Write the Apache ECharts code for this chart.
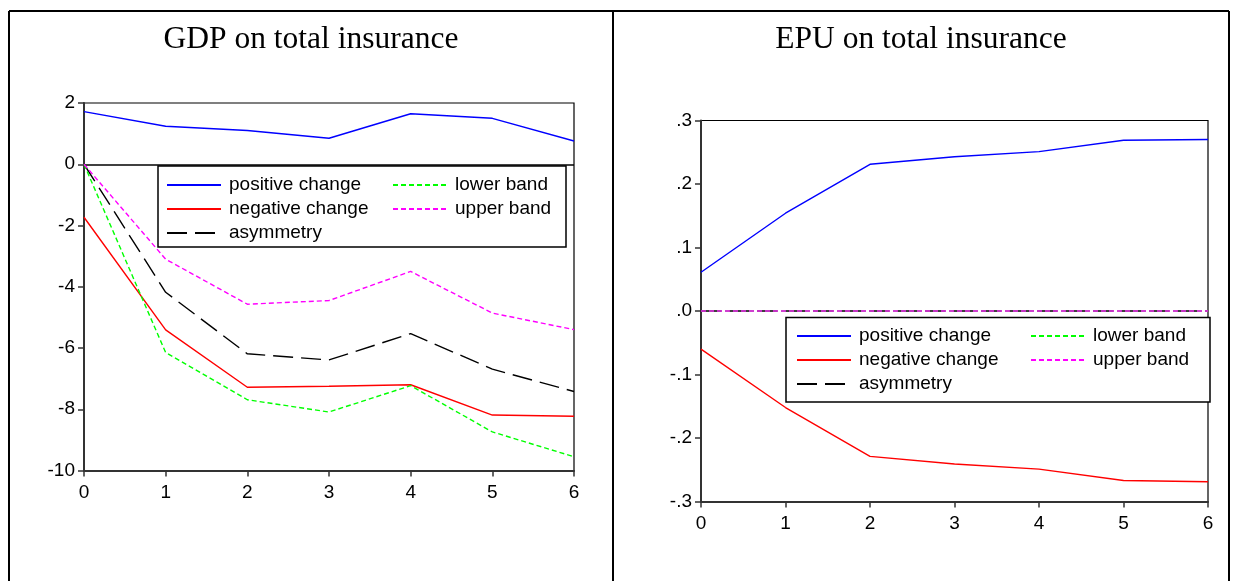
<!DOCTYPE html>
<html>
<head>
<meta charset="utf-8">
<script src="https://cdn.jsdelivr.net/npm/echarts@6/dist/echarts.min.js"></script>
<style>
html,body{margin:0;padding:0;background:#fff;}
#chart{width:1237px;height:581px;}
</style>
</head>
<body>
<div id="chart"></div>
<script>
// ---- data ----
const periods = ['0', '1', '2', '3', '4', '5', '6'];
const titles = ['GDP on total insurance', 'EPU on total insurance'];
const seriesNames = ['positive change', 'negative change', 'asymmetry', 'lower band', 'upper band'];

const gdpPositive  = [1.72, 1.24, 1.10, 0.85, 1.65, 1.50, 0.76];
const gdpNegative  = [-1.73, -5.41, -7.28, -7.25, -7.20, -8.19, -8.23];
const gdpAsymmetry = [0, -4.18, -6.19, -6.39, -5.53, -6.69, -7.42];
const gdpLower     = [0, -6.15, -7.69, -8.09, -7.23, -8.74, -9.55];
const gdpUpper     = [0, -3.10, -4.57, -4.45, -3.50, -4.86, -5.40];

const epuPositive  = [0.061, 0.154, 0.231, 0.243, 0.251, 0.269, 0.270];
const epuNegative  = [-0.060, -0.152, -0.229, -0.241, -0.249, -0.267, -0.269];
const epuAsymmetry = [0, 0, 0, 0, 0, 0, 0];
const epuLower     = [0, 0, 0, 0, 0, 0, 0];
const epuUpper     = [0, 0, 0, 0, 0, 0, 0];

const gdpTicks = {min: -10, max: 2, interval: 2};
const epuTicks = {min: -0.3, max: 0.3, interval: 0.1};

// ---- styles ----
const SANS = '"Liberation Sans", Arial, sans-serif';
const SERIF = '"Liberation Serif", "Times New Roman", serif';
const styles = [
  {color: '#0000ff', type: 'solid'},
  {color: '#ff0000', type: 'solid'},
  {color: '#000000', type: [20, 8]},
  {color: '#00ff00', type: [5, 3]},
  {color: '#ff00ff', type: [5, 3]}
];

const chart = echarts.init(document.getElementById('chart'), null, {renderer: 'canvas'});

function xAxisFor(g) {
  return {
    type: 'category', gridIndex: g, data: periods, boundaryGap: false,
    axisLine: {show: true, onZero: false, lineStyle: {color: '#333', width: 2}},
    axisTick: {show: true, length: 6, alignWithLabel: true, lineStyle: {color: '#333', width: 1.5}},
    axisLabel: {fontSize: 19, color: '#000', fontFamily: SANS, margin: 13},
    splitLine: {show: false}
  };
}
function yAxisFor(g, t, fmt) {
  return {
    type: 'value', gridIndex: g, min: t.min, max: t.max, interval: t.interval,
    axisLine: {show: true, onZero: false, lineStyle: {color: '#333', width: 2}},
    axisTick: {show: true, length: 6, lineStyle: {color: '#333', width: 1.5}},
    axisLabel: {fontSize: 19, color: '#000', fontFamily: SANS, margin: 9, formatter: fmt},
    splitLine: {show: false}
  };
}
function epuFmt(v) {
  const s = Math.abs(v).toFixed(1).replace(/^0/, '');
  return (v < -1e-9 ? '-' : '') + s;
}

function makeSeries(g, arrays, zeroLine) {
  return arrays.map((arr, i) => {
    const s = {
      name: seriesNames[i], type: 'line', xAxisIndex: g, yAxisIndex: g,
      data: arr, symbol: 'none', showSymbol: false, smooth: false,
      lineStyle: {color: styles[i].color, type: styles[i].type, width: 1.4},
      itemStyle: {color: styles[i].color},
      animation: false, z: 4 + i
    };
    if (i === 0 && zeroLine) {
      s.markLine = {
        silent: true, symbol: ['none', 'none'], animation: false,
        label: {show: false},
        lineStyle: {color: '#000', type: 'solid', width: 1.5},
        data: [{yAxis: 0}]
      };
    }
    return s;
  });
}

function legendFor(names, left, top) {
  return {
    data: names, orient: 'vertical', left: left, top: top,
    itemWidth: 54, itemHeight: 20, itemGap: 4, padding: 0,
    selectedMode: false,
    itemStyle: {opacity: 0},
    textStyle: {fontSize: 19, color: '#000', fontFamily: SANS, lineHeight: 20, padding: [0, 0, 0, 3]},
    backgroundColor: 'transparent', borderWidth: 0
  };
}

const col1 = [seriesNames[0], seriesNames[1], seriesNames[2]];
const col2 = [seriesNames[3], seriesNames[4]];

const option = {
  backgroundColor: '#fff',
  animation: false,
  grid: [
    {left: 84, top: 103, width: 490, height: 367.5, show: true, borderColor: '#000', borderWidth: 1.2, backgroundColor: 'transparent'},
    {left: 701, top: 120.5, width: 507, height: 381, show: true, borderColor: '#000', borderWidth: 1.2, backgroundColor: 'transparent'}
  ],
  xAxis: [xAxisFor(0), xAxisFor(1)],
  yAxis: [yAxisFor(0, gdpTicks), yAxisFor(1, epuTicks, epuFmt)],
  legend: [
    legendFor(col1, 166, 175),
    legendFor(col2, 392, 175),
    legendFor(col1, 796, 326),
    legendFor(col2, 1030, 326)
  ],
  series: [].concat(
    makeSeries(0, [gdpPositive, gdpNegative, gdpAsymmetry, gdpLower, gdpUpper], true),
    makeSeries(1, [epuPositive, epuNegative, epuAsymmetry, epuLower, epuUpper], false)
  ),
  graphic: [
    // outer frame
    {type: 'line', shape: {x1: 9, y1: 11, x2: 1229, y2: 11}, style: {stroke: '#000', lineWidth: 2}, z: 10},
    {type: 'line', shape: {x1: 9, y1: 11, x2: 9, y2: 581}, style: {stroke: '#000', lineWidth: 2}, z: 10},
    {type: 'line', shape: {x1: 613, y1: 11, x2: 613, y2: 581}, style: {stroke: '#000', lineWidth: 2}, z: 10},
    {type: 'line', shape: {x1: 1229, y1: 11, x2: 1229, y2: 581}, style: {stroke: '#000', lineWidth: 2}, z: 10},
    // titles
    {type: 'text', x: 311, y: 40, style: {text: titles[0], font: '31.5px ' + SERIF, fill: '#000', textAlign: 'center', textVerticalAlign: 'middle'}, z: 10},
    {type: 'text', x: 921, y: 40, style: {text: titles[1], font: '31.5px ' + SERIF, fill: '#000', textAlign: 'center', textVerticalAlign: 'middle'}, z: 10},
    // legend boxes
    {type: 'rect', shape: {x: 158, y: 166, width: 408, height: 81}, style: {fill: '#fff', stroke: '#000', lineWidth: 1.5}, z: 3},
    {type: 'rect', shape: {x: 786, y: 317.5, width: 424, height: 84.5}, style: {fill: '#fff', stroke: '#000', lineWidth: 1.5}, z: 3}
  ]
};
chart.setOption(option);
</script>
</body>
</html>
